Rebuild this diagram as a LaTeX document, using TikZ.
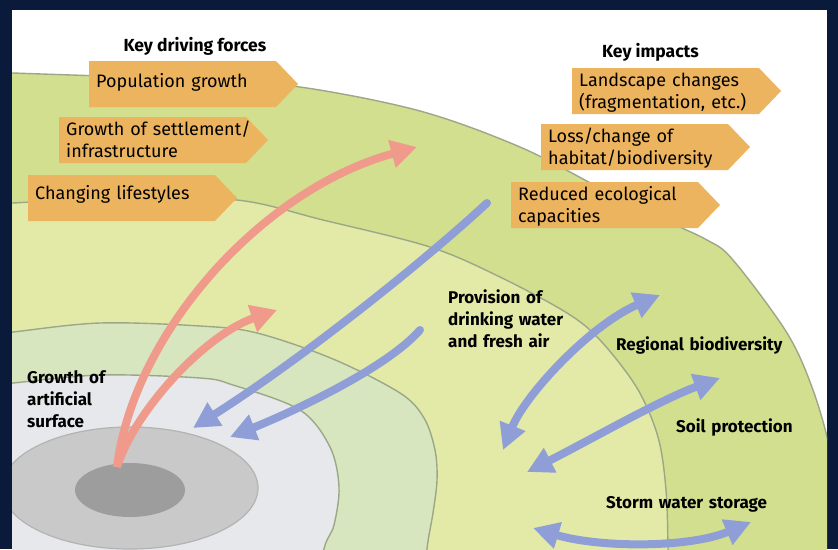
\documentclass[tikz,border=0pt]{standalone}
\usepackage{fontspec}
\setmainfont{Fira Sans}
\usetikzlibrary{arrows.meta}
\definecolor{navy}{HTML}{0A1A3A}
\definecolor{cA}{HTML}{D1DF8F}
\definecolor{cB}{HTML}{E3EAA7}
\definecolor{cC}{HTML}{D7E6BF}
\definecolor{cD}{HTML}{E7E8EB}
\definecolor{cE}{HTML}{C9C9C9}
\definecolor{cF}{HTML}{9D9D9D}
\definecolor{ringline}{HTML}{9CA788}
\definecolor{greyline}{HTML}{B3B3B3}
\definecolor{boxc}{HTML}{EDB45F}
\definecolor{redc}{HTML}{F09A8C}
\definecolor{bluec}{HTML}{8F9ED6}
\tikzset{
  ringstyle/.style={draw=ringline, line width=1.4pt},
  redarr/.style={draw=redc, line width=8pt, -{Triangle[length=26pt,width=27pt]}},
  bluearr/.style={draw=bluec, line width=8pt, line cap=round, -{Triangle[length=26pt,width=26pt]}},
  bluedbl/.style={draw=bluec, line width=8pt, {Triangle[length=26pt,width=26pt]}-{Triangle[length=26pt,width=26pt]}},
  boxtxt/.style={anchor=base west, inner sep=0pt, align=left, text width=185pt, font=\fontsize{18}{22}\selectfont},
  lbl/.style={anchor=base west, inner sep=0pt, align=left, text width=200pt, font=\fontsize{17}{22}\selectfont\bfseries},
  hdr/.style={inner sep=0pt, font=\fontsize{17.5}{21}\selectfont\bfseries},
}
\newcommand{\arrowbox}[2]{\fill[boxc] (#1,#2) -- ++(187,0) -- ++(22,23) -- ++(-22,23) -- ++(-187,0) -- cycle;}
\begin{document}
\begin{tikzpicture}[x=1pt,y=-1pt]
\useasboundingbox (0,0) rectangle (838,549);
\fill[navy] (0,0) rectangle (838,549);
\fill[white] (12,10) rectangle (827,549);
\begin{scope}
\clip (12,10) rectangle (827,549);
\filldraw[fill=cA, ringstyle] (0,600) -- plot[smooth,tension=0.55] coordinates {(0,72) (13,73) (100,76) (200,80) (300,87) (420,111) (520,147) (600,188) (660,218) (707,240) (733,260) (787,333) (813,390) (830,450) (835,500) (833,549) (831,600)} -- cycle;
\filldraw[fill=cB, ringstyle] (0,600) -- plot[smooth,tension=0.55] coordinates {(0,204) (13,203) (120,198) (237,200) (323,220) (430,247) (500,277) (567,313) (600,340) (637,388) (658,437) (666,490) (668,549) (668,600)} -- cycle;
\filldraw[fill=cC, ringstyle] (0,600) -- plot[smooth,tension=0.55] coordinates {(0,333) (13,332) (100,323) (200,326) (257,333) (333,359) (400,393) (424,418) (435,450) (437,480) (433,513) (427,549) (424,600)} -- cycle;
\filldraw[fill=cD, ringstyle] (0,600) -- plot[smooth,tension=0.55] coordinates {(0,384) (13,383) (100,375) (200,378) (233,385) (300,410) (330,447) (339,487) (334,525) (324,549) (318,600)} -- cycle;
\filldraw[fill=cE, draw=greyline, line width=1.2pt] (130,488) ellipse [x radius=128pt, y radius=61pt];
\fill[cF] (130,490) ellipse [x radius=55pt, y radius=27pt];
\end{scope}
% boxes
\arrowbox{89}{61}
\arrowbox{59}{117}
\arrowbox{28}{175}
\arrowbox{572}{68}
\arrowbox{541}{124}
\arrowbox{511}{182}
\node[boxtxt] (pop) at (96,87) {Population growth};
\node[boxtxt] (set) at (66,135) {Growth of settlement/\\infrastructure};
\node[boxtxt] (life) at (35,199) {Changing lifestyles};
\node[boxtxt] (land) at (579,86) {Landscape changes\\(fragmentation, etc.)};
\node[boxtxt] (loss) at (548,142) {Loss/change of\\habitat/biodiversity};
\node[boxtxt] (red) at (518,200) {Reduced ecological\\capacities};
\node[hdr, anchor=base] (kdf) at (195,51) {Key driving forces};
\node[hdr, anchor=base west] (ki) at (602,57) {Key impacts};
% arrows
\coordinate (core) at (117,467);
\coordinate (r1end) at (417,147);
\coordinate (r2end) at (277,310);
\draw[redarr] (core) .. controls (133,335) and (260,190) .. (r1end);
\draw[redarr] (core) .. controls (135,410) and (205,335) .. (r2end);
\coordinate (b1s) at (487,203);
\coordinate (b1e) at (193,428);
\draw[bluearr] (b1s) .. controls (420,265) and (300,360) .. (b1e);
\coordinate (b2s) at (420,330);
\coordinate (b2e) at (230,437);
\draw[bluearr] (b2s) .. controls (385,370) and (285,415) .. (b2e);
\coordinate (d1a) at (503,450);
\coordinate (d1b) at (660,295);
\draw[bluedbl] (d1a) .. controls (525,395) and (590,325) .. (d1b);
\coordinate (d2a) at (527,472);
\coordinate (d2b) at (720,378);
\draw[bluedbl] (d2a) .. controls (590,440) and (660,400) .. (d2b);
\coordinate (d3a) at (533,528);
\coordinate (d3b) at (751,522);
\draw[bluedbl] (d3a) .. controls (600,548) and (690,548) .. (d3b);
% labels
\node[lbl] (gas) at (27,383) {Growth of\\artificial\\surface};
\node[lbl] (prov) at (448,303) {Provision of\\drinking water\\and fresh air};
\node[lbl] (reg) at (616,350) {Regional biodiversity};
\node[lbl] (soil) at (676,432) {Soil protection};
\node[lbl] (storm) at (606,508) {Storm water storage};
\end{tikzpicture}
\end{document}
